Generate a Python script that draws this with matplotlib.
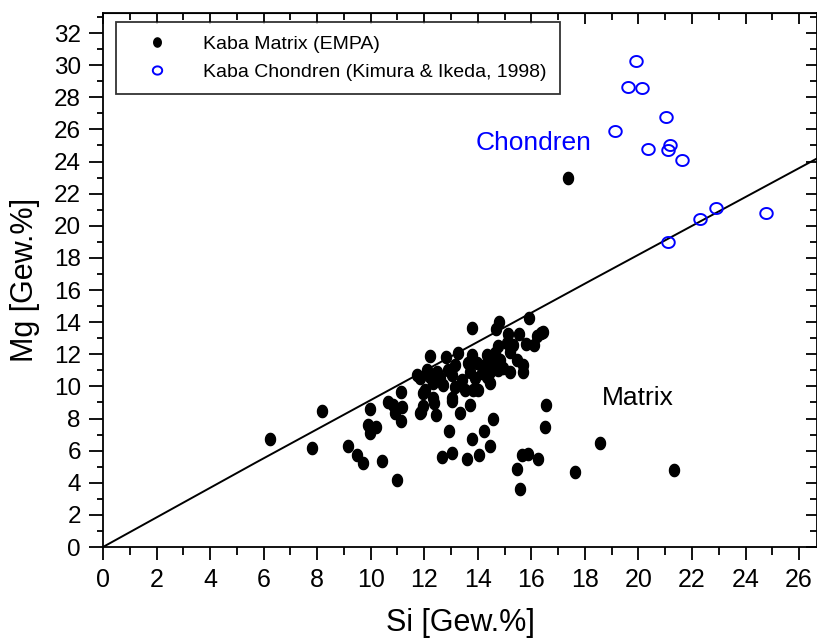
#Mg vs Si scatter for Kaba matrix and chondrules
import numpy as np
import matplotlib
matplotlib.use("Agg")
import matplotlib.pyplot as plt
from matplotlib.path import Path
from matplotlib.ticker import MultipleLocator

plt.rcParams["font.family"] = ["Liberation Sans", "DejaVu Sans"]

#Kaba Matrix (EMPA), Si and Mg in wt%
matrix_si = [6.24, 8.19, 7.82, 9.16, 9.50, 9.71, 10.42, 10.98, 9.97, 9.91,
             10.19, 9.99, 10.91, 11.13, 11.16, 10.66, 10.84, 11.87, 11.97, 11.84,
             12.38, 12.44, 13.04, 13.34, 13.72, 14.58, 12.94, 14.24, 13.78, 14.46,
             12.66, 13.05, 13.61, 14.06, 16.56, 16.52, 15.65, 15.89, 16.26, 15.48,
             15.59, 16.42, 18.58, 17.64, 21.34, 13.78, 14.80, 15.91, 16.36, 16.20,
             14.68, 15.13, 15.53, 15.08, 15.33, 15.80, 16.10, 14.76, 15.20, 12.22,
             12.81, 13.27, 13.77, 14.33, 14.64, 14.83, 15.45, 15.70, 15.70, 13.65,
             13.96, 14.27, 14.58, 14.95, 14.46, 14.77, 15.20, 13.71, 14.15, 12.09,
             12.47, 12.90, 13.15, 11.72, 11.84, 12.22, 12.59, 13.03, 13.40, 13.90,
             14.33, 14.46, 12.71, 13.15, 13.52, 12.34, 12.03, 11.97, 12.34, 13.03,
             13.83, 14.02, 11.12, 17.37]
matrix_mg = [6.71, 8.45, 6.15, 6.27, 5.73, 5.21, 5.34, 4.15, 8.59, 7.58,
             7.45, 7.08, 8.33, 7.83, 8.74, 9.05, 8.84, 8.39, 8.78, 8.36,
             8.99, 8.20, 9.11, 8.36, 8.82, 7.95, 7.20, 7.20, 6.71, 6.27,
             5.62, 5.83, 5.46, 5.71, 8.82, 7.45, 5.71, 5.79, 5.46, 4.84,
             3.59, 13.37, 6.50, 4.69, 4.81, 13.62, 13.99, 14.24, 13.34, 13.14,
             13.56, 13.24, 13.26, 12.68, 12.58, 12.66, 12.60, 12.52, 12.16, 11.89,
             11.85, 12.06, 11.96, 11.96, 12.06, 11.64, 11.64, 11.33, 10.92, 11.44,
             11.44, 11.33, 11.44, 11.13, 10.92, 11.02, 10.92, 10.92, 10.82, 11.02,
             10.92, 11.02, 11.33, 10.71, 10.50, 10.60, 10.50, 10.71, 10.40, 10.50,
             10.60, 10.19, 10.09, 9.98, 9.78, 10.19, 9.78, 9.57, 9.26, 9.26,
             9.78, 9.78, 9.63, 23.0]

#Kaba Chondren (Kimura & Ikeda, 1998)
chond_si = [19.91, 19.62, 20.13, 21.04, 19.13, 20.36, 21.18, 21.11, 21.64,
            22.90, 22.31, 21.11, 24.78]
chond_mg = [30.24, 28.62, 28.56, 26.76, 25.90, 24.76, 25.03, 24.72, 24.10,
            21.09, 20.40, 18.99, 20.78]

#Reference line
line_si = [0, 5.7, 18.3, 26.7]
line_mg = [0, 5.25, 16.67, 24.22]

#elliptic markers (the dots in the original are slightly squashed)
t = np.linspace(0, 2 * np.pi, 60)
tall_dot = Path(np.column_stack([0.82 * np.cos(t), np.sin(t)]), closed=True)
wide_ring = Path(np.column_stack([np.cos(t), 0.88 * np.sin(t)]), closed=True)

fig = plt.figure(figsize=(8.17, 6.41), dpi=100)
ax = fig.add_axes([103/817, 94/641, 714/817, 534/641])

ax.plot(line_si, line_mg, color="black", lw=1.4, zorder=2)
ax.plot(matrix_si, matrix_mg, marker=tall_dot, color="black", ms=8.8, ls="none",
        label="Kaba Matrix (EMPA)", zorder=3)
ax.plot(chond_si, chond_mg, marker=wide_ring, mfc="none", mec="#0000ff", mew=1.4, ms=9,
        ls="none", label="Kaba Chondren (Kimura & Ikeda, 1998)", zorder=3)

ax.text(16.1, 25.15, "Chondren", color="#0000ff", fontsize=19, ha="center", va="center")
ax.text(19.97, 9.26, "Matrix", color="black", fontsize=19, ha="center", va="center")

ax.set_xlim(0, 26.67)
ax.set_ylim(0, 33.25)
ax.xaxis.set_major_locator(MultipleLocator(2))
ax.xaxis.set_minor_locator(MultipleLocator(1))
ax.yaxis.set_major_locator(MultipleLocator(2))
ax.yaxis.set_minor_locator(MultipleLocator(1))

ax.tick_params(which="both", direction="out", top=False, right=False, width=1.3,
               colors="black")
ax.tick_params(axis="y", which="major", length=10, pad=6, labelsize=17.5)
ax.tick_params(axis="y", which="minor", length=4)
ax.tick_params(axis="x", which="major", length=9, pad=6, labelsize=18)
ax.tick_params(axis="x", which="minor", length=6)

#Inward ticks on top and right
sec_x = ax.secondary_xaxis("top")
sec_x.xaxis.set_major_locator(MultipleLocator(2))
sec_x.xaxis.set_minor_locator(MultipleLocator(1))
sec_x.tick_params(which="both", direction="in", labeltop=False, width=1.3)
sec_x.tick_params(which="major", length=8)
sec_x.tick_params(which="minor", length=5)
sec_y = ax.secondary_yaxis("right")
sec_y.yaxis.set_major_locator(MultipleLocator(2))
sec_y.yaxis.set_minor_locator(MultipleLocator(1))
sec_y.tick_params(which="both", direction="in", labelright=False, width=1.3)
sec_y.tick_params(which="major", length=8)
sec_y.tick_params(which="minor", length=5)

for s in ax.spines.values():
    s.set_linewidth(1.3)

ax.set_xlabel("Si [Gew.%]", fontsize=22, labelpad=12)
ax.set_ylabel("Mg [Gew.%]", fontsize=22, labelpad=10)

leg = ax.legend(loc="upper left", bbox_to_anchor=(0.018, 0.983), borderaxespad=0,
                fancybox=False, edgecolor="black", fontsize=14, handletextpad=1.0,
                borderpad=0.7, labelspacing=0.5, handlelength=2.8, markerscale=0.75)
leg.get_frame().set_linewidth(1.3)

fig.savefig("out.png", dpi=100)
